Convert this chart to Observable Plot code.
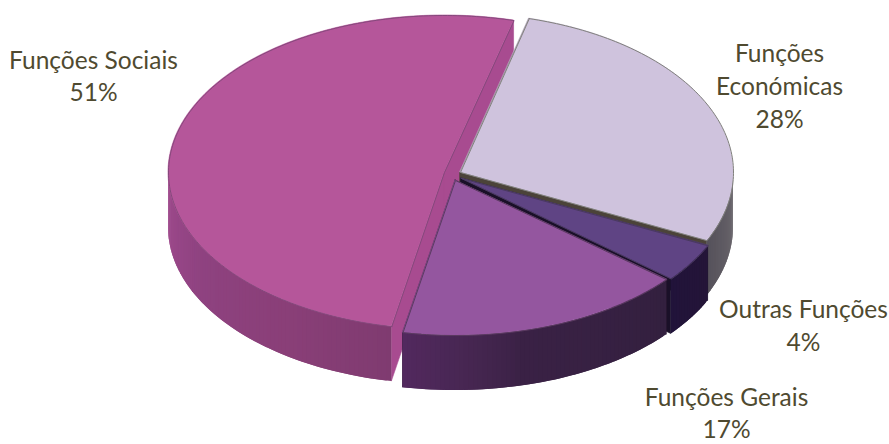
<!DOCTYPE html>
<html><head><meta charset="utf-8">
<script src="https://cdn.jsdelivr.net/npm/d3@7"></script>
<script src="https://cdn.jsdelivr.net/npm/@observablehq/plot@0.6"></script>
<style>html,body{margin:0;padding:0;background:#fff}svg{display:block}</style>
</head><body>
<script>
const names = ["Funções\nEconómicas", "Outras Funções", "Funções Gerais", "Funções Sociais"];
const shares = [28, 4, 17, 51];

// drawing geometry of each slice (same order as names)
const layout = [
  {cx: 460, cy: 172, rx: 273, ry: 159, top: "#cfc3dd", edge: "#80807c", face: "#4b4339",
   wall: [[90, "#6c686e"], [116, "#55515a"]], lx: 779, ly: 84},
  {cx: 461, cy: 178, rx: 273, ry: 157, top: "#5f4484", edge: "#4a3a60", face: "#1a1028",
   wall: [[115, "#241538"], [130, "#21133a"]], lx: 803, ly: 323.5},
  {cx: 455, cy: 180, rx: 275, ry: 155, top: "#94569f", edge: "#5a3a60", face: "#2a1830",
   wall: [[130, "#33203f"], [165, "#3a2145"], [175, "#452650"], [191, "#53295f"]], lx: 726, ly: 411},
  {cx: 444, cy: 172, rx: 276, ry: 157, top: "#b5569a", edge: "#85487c", face: "#a84b90",
   wall: [[190, "#7f3b70"], [215, "#8a3f78"], [240, "#8e4280"], [270, "#a04b8e"]], lx: 93, ly: 74}
];
const depth = 55, startAngle = 14.6;

const rad = d => d * Math.PI / 180;
let acc = startAngle;
const slices = shares.map((s, i) => {
  const a0 = acc, a1 = acc + s * 3.6; acc = a1;
  return {...layout[i], a0, a1, name: names[i], share: s};
});
const pt = (s, a) => [s.cx + s.rx * Math.sin(rad(a)), s.cy - s.ry * Math.cos(rad(a))];
const arc = (s, step = 1) => {
  const out = [];
  const n = Math.ceil((s.a1 - s.a0) / step);
  for (let k = 0; k <= n; k++) out.push(s.a0 + (s.a1 - s.a0) * k / n);
  return out;
};
const shape = {x1: "x1", y1: "y1", x2: "x2", y2: "y2", z: "id", fill: "c", stroke: "c", strokeWidth: 0.6, curve: "linear"};
const strip = {x1: "x1", y1: "y1", x2: "x2", y2: "y2", z: "id", fill: "c", curve: "linear"};

function faceMark(s, a) {
  const [x, y] = pt(s, a);
  return [{id: 0, c: s.face, x1: s.cx, y1: s.cy + depth, x2: s.cx, y2: s.cy},
          {id: 0, c: s.face, x1: x, y1: y + depth, x2: x, y2: y}];
}
function wallRows(s) {
  const stops = s.wall;
  const col = d3.scaleLinear().domain(stops.map(d => d[0])).range(stops.map(d => d[1])).clamp(true);
  const rows = [], as = arc(s, 1);
  // going from the back of the pie to the front, so each strip overlaps the last one
  const lo = Math.max(s.a0, s.a0 < 90 ? 90 : s.a0), hi = Math.min(s.a1, 270);
  const list = as.filter(a => a >= lo && a <= hi);
  list.forEach((a, i) => {
    const b = Math.min(a + 2, hi);
    if (b <= a) return;
    const [xa, ya] = pt(s, a), [xb, yb] = pt(s, b);
    const c = col(a);
    rows.push({id: i, c, x1: xa, y1: ya + depth, x2: xa, y2: ya},
              {id: i, c, x1: xb, y1: yb + depth, x2: xb, y2: yb});
  });
  return rows;
}
function topRows(s) {
  return arc(s).map(a => {
    const [x, y] = pt(s, a);
    return {id: 0, c: s.top, x1: s.cx, y1: s.cy, x2: x, y2: y};
  });
}
function outline(s) {
  return [...arc(s).map(a => { const [x, y] = pt(s, a); return {x, y}; }), {x: s.cx, y: s.cy},
          (() => { const [x, y] = pt(s, s.a0); return {x, y}; })()];
}
function sliceMarks(s) {
  return [
    Plot.area(faceMark(s, s.a0), shape),
    Plot.area(faceMark(s, s.a1), shape),
    Plot.area(wallRows(s), strip),
    Plot.area(topRows(s), shape),
    Plot.line(outline(s), {x: "x", y: "y", stroke: s.edge, strokeWidth: 1, curve: "linear"})
  ];
}
const order = [3, 0, 1, 2];

const chart = Plot.plot({
  width: 889, height: 444, margin: 0,
  x: {domain: [0, 889], range: [0, 889], axis: null},
  y: {domain: [0, 444], range: [0, 444], axis: null},
  color: {type: "identity"},
  style: {background: "#fff"},
  marks: [
    ...order.flatMap(i => sliceMarks(slices[i])),
    Plot.text(slices, {
      x: "lx", y: "ly", text: d => `${d.name}\n${d.share}%`,
      lineAnchor: "middle", textAnchor: "middle", lineHeight: 1.33,
      fontSize: 24.5, fontFamily: "Lato, Carlito, sans-serif", fill: "#4f4a30"
    })
  ]
});
document.body.appendChild(chart);
</script>
</body></html>
